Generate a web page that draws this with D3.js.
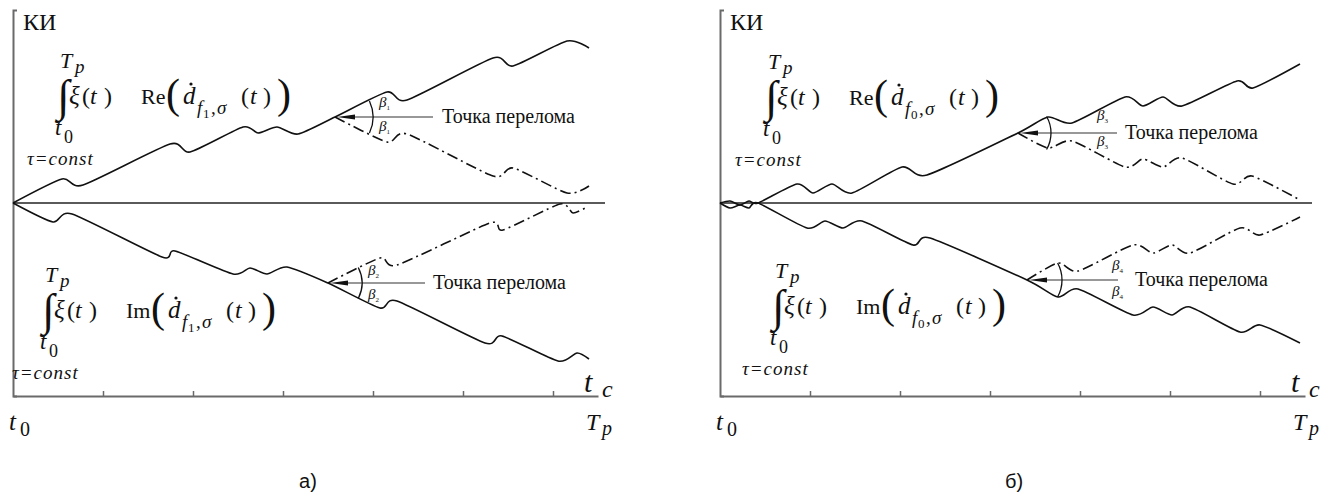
<!DOCTYPE html>
<html>
<head>
<meta charset="utf-8">
<script src="https://cdn.jsdelivr.net/npm/d3@7"></script>
<style>
  body { margin: 0; background: #fff; }
  text { font-family: "Liberation Serif", "DejaVu Serif", serif; fill: #111; }
</style>
</head>
<body>
<script>
// values: x = time from t0 (Tp = 585), y = KI (0 = zero line)
var tickValues = [90, 180, 270, 360, 450, 540];

// panel a)
var aReSolid = [[0,0],[49,24],[70,18],[157,59],[177,51],[230,76],[245,70],[264,76],[285,69],[322,86],[374,111],[394,103],[480,145],[500,137],[554,162],[576,155]];
var aReDash  = [[322,86],[374,61],[394,69],[480,27],[500,35],[554,10],[576,17]];
var aImSolid = [[0,0],[40,-19],[59,-11],[149,-54],[162,-48],[220,-71],[237,-65],[254,-71],[274,-64],[315,-80],[367,-105],[384,-98],[472,-140],[489,-133],[545,-158],[564,-150],[576,-156]];
var aImDash  = [[315,-80],[367,-55],[384,-62],[477,-20],[490,-27],[547,-1],[560,-10],[574,-4]];

// panel б)
var bReSolid = [[0,0],[10,2],[20,-2],[29,2],[38,0],[77,19],[93,10],[112,19],[132,10],[182,36],[207,28],[298,70],[328,86],[352,80],[405,106],[423,97],[443,106],[462,97],[517,122],[533,115],[580,139]];
var bReDash  = [[298,70],[328,55],[352,62],[405,36],[423,44],[443,36],[462,45],[513,19],[532,27],[580,3]];
var bImSolid = [[0,0],[10,-5],[20,-2],[29,-5],[38,0],[87,-25],[105,-18],[123,-25],[142,-18],[193,-42],[210,-35],[307,-77],[338,-94],[358,-86],[413,-112],[433,-104],[452,-112],[470,-104],[520,-129],[540,-122],[580,-140]];
var bImDash  = [[307,-77],[338,-60],[358,-68],[413,-42],[433,-50],[452,-42],[470,-50],[520,-25],[540,-32],[580,-14]];

var panelLabels = ["а)", "б)"];
var formulaSubs = ["1", "0"];
var betaSubs = [["1", "2"], ["3", "4"]];
var breakLabel = "Точка перелома";

var width = 1335, height = 495;

var svg = d3.select("body").append("svg")
    .attr("width", width)
    .attr("height", height);

var panels = [
  {ox: 13, axisY: 396, labelX: 308,
   series: [aReSolid, aReDash, aImSolid, aImDash],
   formulas: [{ix: 59, by: 104, part: "Re"}, {ix: 44, by: 318, part: "Im"}],
   notes: [{arrowTo: 420, textX: 429, r: 38, deg: 25, bdx: 44, up: -10, down: 14},
           {arrowTo: 412, textX: 420, r: 34, deg: 27, bdx: 40, up: -8, down: 16}]},
  {ox: 720, axisY: 396, labelX: 1014,
   series: [bReSolid, bReDash, bImSolid, bImDash],
   formulas: [{ix: 767, by: 105, part: "Re"}, {ix: 774, by: 314, part: "Im"}],
   notes: [{arrowTo: 397, textX: 405, r: 33, deg: 30, bdx: 79, up: -13, down: 13},
           {arrowTo: 398, textX: 415, r: 35, deg: 29, bdx: 85, up: -10, down: 16}]}
];

// pieces of the integral label, offsets from the integral sign / main baseline
var formulaPieces = [
  {t: "T", dx: 1, dy: -36, s: 22, i: 1},
  {t: "p", dx: 16, dy: -31, s: 19, i: 1},
  {t: "\u222B", dx: -2, dy: 7, s: 45},
  {t: "t", dx: -4, dy: 31, s: 23, i: 1},
  {t: "0", dx: 5, dy: 39, s: 18},
  {t: "\u03C4=const", dx: -32, dy: 61, s: 19, i: 1, ls: 1},
  {t: "\u03BE", dx: 10, dy: 0, s: 25, i: 1},
  {t: "(", dx: 23, dy: 0, s: 24},
  {t: "t", dx: 31, dy: 0, s: 24, i: 1},
  {t: ")", dx: 45, dy: 0, s: 24},
  {t: "PART", dx: 82, dy: 0, s: 22},
  {t: "(", dx: 107, dy: 4, s: 42},
  {t: "d", dx: 124, dy: 0, s: 25, i: 1},
  {t: "f", dx: 138, dy: 10, s: 19, i: 1},
  {t: "SUB", dx: 144, dy: 14, s: 13},
  {t: ",", dx: 152, dy: 10, s: 19},
  {t: "\u03C3", dx: 158, dy: 10, s: 19, i: 1},
  {t: "(", dx: 182, dy: 0, s: 24},
  {t: "t", dx: 191, dy: 0, s: 24, i: 1},
  {t: ")", dx: 204, dy: 0, s: 24},
  {t: ")", dx: 218, dy: 4, s: 42}
];

panels.forEach(function(p, pi) {
  var x = d3.scaleLinear().domain([0, 585]).range([p.ox, p.ox + 585]);
  var y = d3.scaleLinear().domain([-193, 193]).range([p.axisY, p.axisY - 386]);

  var g = svg.append("g");

  var xAxis = g.append("g")
      .attr("transform", "translate(0," + p.axisY + ")")
      .call(d3.axisBottom(x).tickValues(tickValues).tickSize(-5).tickSizeOuter(0).tickFormat(""));
  var yAxis = g.append("g")
      .attr("transform", "translate(" + p.ox + ",0)")
      .call(d3.axisLeft(y).tickValues([]).tickSizeOuter(-4));
  [xAxis, yAxis].forEach(function(a) {
    a.select(".domain").attr("stroke", "#6a6a6a").attr("stroke-width", 2);
    a.selectAll(".tick line").attr("stroke", "#6a6a6a").attr("stroke-width", 1.5);
  });

  g.append("line")
      .attr("x1", x(0)).attr("x2", x(592))
      .attr("y1", y(0)).attr("y2", y(0))
      .attr("stroke", "#5a5a5a").attr("stroke-width", 2);

  var line = d3.line()
      .x(function(d) { return x(d[0]); })
      .y(function(d) { return y(d[1]); })
      .curve(d3.curveCardinal.tension(0.3));

  p.series.forEach(function(s, si) {
    g.append("path")
        .attr("d", line(s))
        .attr("fill", "none")
        .attr("stroke", "#111")
        .attr("stroke-width", 1.6)
        .attr("stroke-dasharray", si % 2 ? "11,4,2,4" : null);
  });

  // break points: arrow, angle arc, beta labels
  p.notes.forEach(function(n, ni) {
    var bp = p.series[ni * 2 + 1][0];
    var cx = x(bp[0]), cy = y(bp[1]);
    g.append("line")
        .attr("x1", cx + 14).attr("x2", x(n.arrowTo))
        .attr("y1", cy).attr("y2", cy)
        .attr("stroke", "#333").attr("stroke-width", 1.2);
    g.append("path")
        .attr("d", "M" + (cx + 2) + "," + cy + "L" + (cx + 20) + "," + (cy - 2.6) + "L" + (cx + 20) + "," + (cy + 2.6) + "Z")
        .attr("fill", "#111");
    var th = n.deg * Math.PI / 180;
    var arc = d3.path();
    arc.moveTo(cx + n.r * Math.cos(-th), cy + n.r * Math.sin(-th));
    arc.arc(cx, cy, n.r, -th, th);
    g.append("path").attr("d", arc.toString())
        .attr("fill", "none").attr("stroke", "#111").attr("stroke-width", 1.3);
    [n.up, n.down].forEach(function(off) {
      var t = g.append("text")
          .attr("x", cx + n.bdx).attr("y", cy + off)
          .style("font-size", "15px").style("font-style", "italic")
          .text("\u03B2");
      t.append("tspan").attr("dy", 3).style("font-size", "7px").style("font-style", "normal")
          .text(betaSubs[pi][ni]);
    });
    g.append("text")
        .attr("x", x(n.textX)).attr("y", cy + 6)
        .style("font-size", "20px")
        .text(breakLabel);
  });

  // integral labels
  p.formulas.forEach(function(f) {
    formulaPieces.forEach(function(c) {
      var txt = c.t === "PART" ? f.part : c.t === "SUB" ? formulaSubs[pi] : c.t;
      g.append("text")
          .attr("x", f.ix + c.dx).attr("y", f.by + c.dy)
          .style("font-size", c.s + "px")
          .style("font-style", c.i ? "italic" : "normal")
          .style("letter-spacing", c.ls ? c.ls + "px" : null)
          .text(txt);
    });
    g.append("circle").attr("cx", f.ix + 132).attr("cy", f.by - 20).attr("r", 1.6).attr("fill", "#111");
  });

  // axis labels
  g.append("text").attr("x", p.ox + 10).attr("y", 30).style("font-size", "24px").text("КИ");
  g.append("text").attr("x", x(571)).attr("y", p.axisY - 4).style("font-size", "30px").style("font-style", "italic").text("t");
  g.append("text").attr("x", x(589)).attr("y", p.axisY + 1).style("font-size", "24px").style("font-style", "italic").text("c");
  g.append("text").attr("x", x(0) - 4).attr("y", p.axisY + 34).style("font-size", "25px").style("font-style", "italic").text("t");
  g.append("text").attr("x", x(0) + 7).attr("y", p.axisY + 40).style("font-size", "20px").text("0");
  g.append("text").attr("x", x(585) - 12).attr("y", p.axisY + 34).style("font-size", "24px").style("font-style", "italic").text("T");
  g.append("text").attr("x", x(585) + 4).attr("y", p.axisY + 39).style("font-size", "20px").style("font-style", "italic").text("p");

  g.append("text")
      .attr("x", p.labelX).attr("y", 488)
      .attr("text-anchor", "middle")
      .style("font-family", "'Liberation Sans', Arial, sans-serif")
      .style("font-size", "20px")
      .text(panelLabels[pi]);
});
</script>
</body>
</html>
